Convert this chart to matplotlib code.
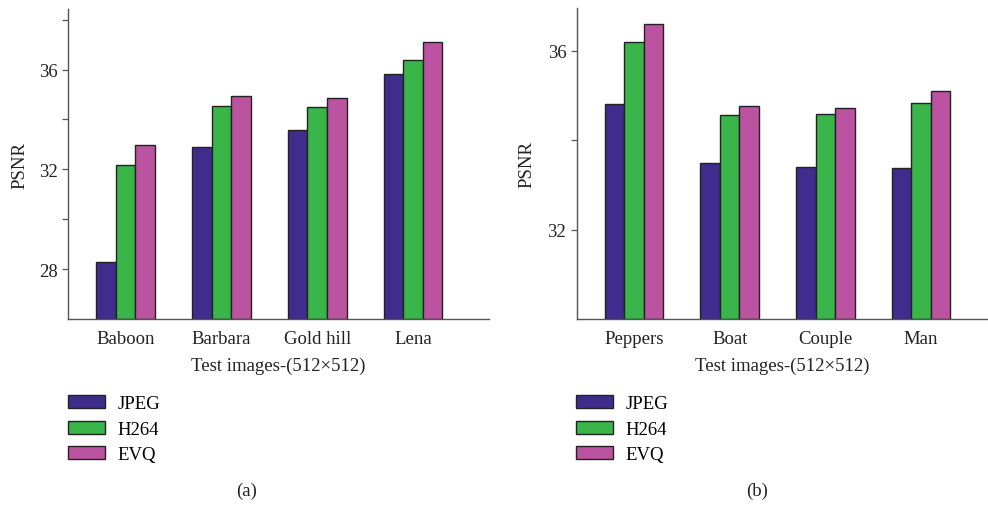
import matplotlib.pyplot as plt
import numpy as np
from matplotlib.patches import Patch

plt.rcParams["font.family"] = ["Liberation Serif", "DejaVu Serif"]

# data
methods = ["JPEG", "H264", "EVQ"]
colors = ["#3f2d8e", "#39b54a", "#bc53a0"]

images_a = ["Baboon", "Barbara", "Gold hill", "Lena"]
jpeg_a = [28.28, 32.88, 33.59, 35.82]
h264_a = [32.17, 34.53, 34.49, 36.40]
evq_a = [32.96, 34.95, 34.87, 37.11]

images_b = ["Peppers", "Boat", "Couple", "Man"]
jpeg_b = [34.81, 33.48, 33.39, 33.38]
h264_b = [36.19, 34.57, 34.58, 34.83]
evq_b = [36.61, 34.77, 34.73, 35.11]


def draw_panel(ax, names, series, ylim, major, minor, xlim):
    x = np.arange(len(names))
    w = 0.204
    base = ylim[0]
    for i, (vals, c) in enumerate(zip(series, colors)):
        ax.bar(x + (i - 1) * w, np.array(vals) - base, w, bottom=base,
               color=c, edgecolor="#222222", linewidth=1.0, zorder=2)
    ax.set_xlim(*xlim)
    ax.set_ylim(*ylim)
    ax.set_yticks(major)
    ax.set_yticks(minor, minor=True)
    ax.set_yticklabels([f"{v:g}" for v in major])
    ax.set_xticks(x)
    ax.set_xticklabels(names)
    ax.tick_params(axis="x", length=0, labelsize=13.5, pad=8, colors="#222222")
    ax.tick_params(axis="y", which="both", length=4, width=0.9,
                   labelsize=13.5, color="#555555", labelcolor="#222222")
    for s in ["top", "right"]:
        ax.spines[s].set_visible(False)
    for s in ["left", "bottom"]:
        ax.spines[s].set_color("#555555")
        ax.spines[s].set_linewidth(1.0)
    ax.set_xlabel("Test images-(512×512)", fontsize=13.5, labelpad=7, color="#222222")
    ax.set_ylabel("PSNR", fontsize=13.5, color="#222222")


fig = plt.figure(figsize=(9.88, 5.06), dpi=100)
ax1 = fig.add_axes([0.0688, 0.3676, 0.426, 0.6126])
ax2 = fig.add_axes([0.5837, 0.3676, 0.4163, 0.614])

draw_panel(ax1, images_a, [jpeg_a, h264_a, evq_a], (26, 38.43),
           [28, 32, 36], [30, 34, 38], (-0.6, 3.79))
draw_panel(ax2, images_b, [jpeg_b, h264_b, evq_b], (30, 36.95),
           [32, 36], [34], (-0.6, 3.7))
ax1.yaxis.set_label_coords(-0.095, 0.5)
ax2.yaxis.set_label_coords(-0.10, 0.5)

handles = [Patch(facecolor=c, edgecolor="#222222", linewidth=1.0) for c in colors]
for xpos, tag, tx in [(0.056, "(a)", 0.2497), (0.570, "(b)", 0.7659)]:
    fig.legend(handles, methods, loc="upper left", bbox_to_anchor=(xpos, 0.243),
               frameon=False, fontsize=13.5, handlelength=1.95, handleheight=0.7,
               handletextpad=0.68, labelspacing=0.45, borderpad=0.2)
    fig.text(tx, 0.012, tag, ha="center", va="bottom", fontsize=13.5, color="#222222")

fig.savefig("out.png", dpi=100)
